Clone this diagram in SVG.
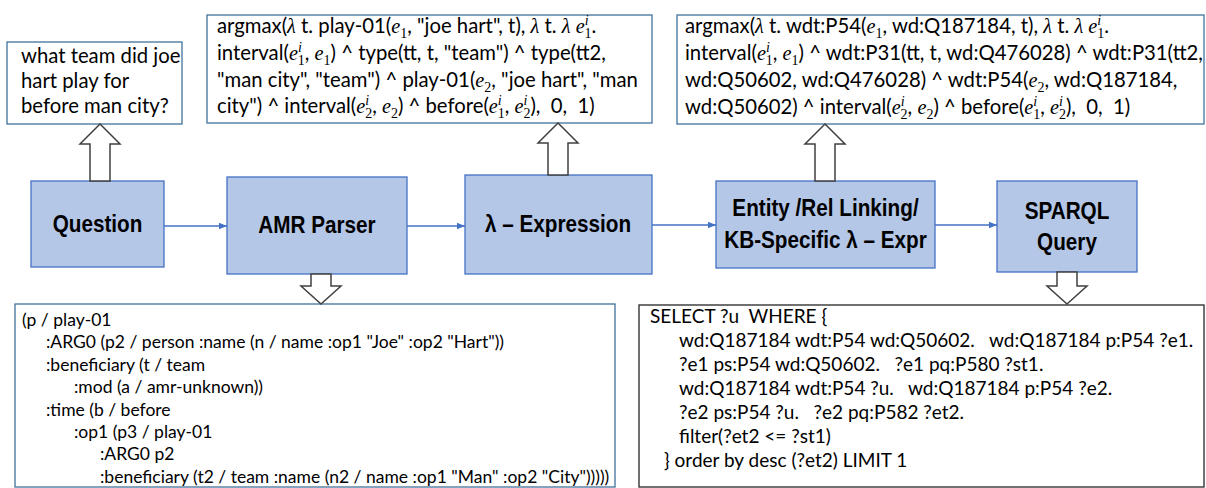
<svg xmlns="http://www.w3.org/2000/svg" width="1206" height="488" viewBox="0 0 1206 488">
<style>
.tb{fill:#fff;stroke:#41719C;stroke-width:1.3}
.tb2{fill:#fff;stroke:#262626;stroke-width:1.3}
.nd{fill:#B4C7E7;stroke:#4472C4;stroke-width:1.3}
.lbl{font-family:"Liberation Sans",Arial,sans-serif;font-weight:bold;font-size:23px;fill:#000;text-anchor:middle}
.t{font-family:Lato,"Liberation Sans",sans-serif;font-size:20.3px;fill:#000;white-space:pre}
.ta{font-family:Lato,"Liberation Sans",sans-serif;font-size:17.5px;fill:#000;white-space:pre}
.ts{font-family:Lato,"Liberation Sans",sans-serif;font-size:19px;fill:#000;white-space:pre}
.m{font-family:"Liberation Serif",serif;font-style:italic}
.s{font-family:"Liberation Serif",serif;font-size:14px}
.si{font-family:"Liberation Serif",serif;font-style:italic;font-size:14px}
.blk{fill:#fff;stroke:#404040;stroke-width:1.5}
.conn{stroke:#4472C4;stroke-width:1.3;fill:none;marker-end:url(#ah)}
</style>
<defs>
<marker id="ah" viewBox="0 0 10 10" refX="10" refY="5" markerWidth="8" markerHeight="8" markerUnits="userSpaceOnUse" orient="auto"><path d="M0,1 L10,5 L0,9 Z" fill="#4472C4"/></marker>
</defs>

<g id="question-text">
<rect class="tb" x="7" y="42" width="175" height="82"/>
<text class="t" x="21" y="63">what team did joe</text>
<text class="t" x="21" y="88">hart play for</text>
<text class="t" x="21" y="113">before man city?</text>
</g>

<g id="lambda-text">
<rect class="tb" x="207" y="15" width="445" height="108"/>
<text class="t" x="217" y="33">argmax(<tspan class="m">λ</tspan> t. play-01(<tspan class="m">e</tspan><tspan class="s" dy="5">1</tspan><tspan dy="-5">, "joe hart", t), </tspan><tspan class="m">λ</tspan> t. <tspan class="m">λ e</tspan><tspan class="si" dy="-8">i</tspan><tspan class="s" dx="-4" dy="13">1</tspan><tspan dy="-5">.</tspan></text>
<text class="t" x="217" y="60">interval(<tspan class="m">e</tspan><tspan class="si" dy="-8">i</tspan><tspan class="s" dx="-4" dy="13">1</tspan><tspan dy="-5">, </tspan><tspan class="m">e</tspan><tspan class="s" dy="5">1</tspan><tspan dy="-5">) ^ type(tt, t, "team") ^ type(tt2,</tspan></text>
<text class="t" x="217" y="87">"man city", "team") ^ play-01(<tspan class="m">e</tspan><tspan class="s" dy="5">2</tspan><tspan dy="-5">, "joe hart", "man</tspan></text>
<text class="t" x="217" y="113">city") ^ interval(<tspan class="m">e</tspan><tspan class="si" dy="-8">i</tspan><tspan class="s" dx="-4" dy="13">2</tspan><tspan dy="-5">, </tspan><tspan class="m">e</tspan><tspan class="s" dy="5">2</tspan><tspan dy="-5">) ^ before(</tspan><tspan class="m">e</tspan><tspan class="si" dy="-8">i</tspan><tspan class="s" dx="-4" dy="13">1</tspan><tspan dy="-5">, </tspan><tspan class="m">e</tspan><tspan class="si" dy="-8">i</tspan><tspan class="s" dx="-4" dy="13">2</tspan><tspan dy="-5">),  0,  1)</tspan></text>
</g>

<g id="kb-text">
<rect class="tb" x="677" y="15" width="527" height="109"/>
<text class="t" x="685" y="33">argmax(<tspan class="m">λ</tspan> t. wdt:P54(<tspan class="m">e</tspan><tspan class="s" dy="5">1</tspan><tspan dy="-5">, wd:Q187184, t), </tspan><tspan class="m">λ</tspan> t. <tspan class="m">λ e</tspan><tspan class="si" dy="-8">i</tspan><tspan class="s" dx="-4" dy="13">1</tspan><tspan dy="-5">.</tspan></text>
<text class="t" x="685" y="60">interval(<tspan class="m">e</tspan><tspan class="si" dy="-8">i</tspan><tspan class="s" dx="-4" dy="13">1</tspan><tspan dy="-5">, </tspan><tspan class="m">e</tspan><tspan class="s" dy="5">1</tspan><tspan dy="-5">) ^ wdt:P31(tt, t, wd:Q476028) ^ wdt:P31(tt2,</tspan></text>
<text class="t" x="685" y="87">wd:Q50602, wd:Q476028) ^ wdt:P54(<tspan class="m">e</tspan><tspan class="s" dy="5">2</tspan><tspan dy="-5">, wd:Q187184,</tspan></text>
<text class="t" x="685" y="114">wd:Q50602) ^ interval(<tspan class="m">e</tspan><tspan class="si" dy="-8">i</tspan><tspan class="s" dx="-4" dy="13">2</tspan><tspan dy="-5">, </tspan><tspan class="m">e</tspan><tspan class="s" dy="5">2</tspan><tspan dy="-5">) ^ before(</tspan><tspan class="m">e</tspan><tspan class="si" dy="-8">i</tspan><tspan class="s" dx="-4" dy="13">1</tspan><tspan dy="-5">, </tspan><tspan class="m">e</tspan><tspan class="si" dy="-8">i</tspan><tspan class="s" dx="-4" dy="13">2</tspan><tspan dy="-5">),  0,  1)</tspan></text>
</g>

<g id="question">
<rect class="nd" x="31" y="181" width="133" height="86"/>
<text class="lbl" transform="translate(97.5,232) scale(0.9,1)">Question</text>
</g>
<g id="amr-parser">
<rect class="nd" x="227" y="177" width="180" height="97"/>
<text class="lbl" transform="translate(317,233) scale(0.9,1)">AMR Parser</text>
</g>
<g id="lambda-expression">
<rect class="nd" x="465" y="175" width="187" height="99"/>
<text class="lbl" transform="translate(558,232) scale(0.9,1)">λ – Expression</text>
</g>
<g id="entity-linking">
<rect class="nd" x="716" y="181" width="219" height="87"/>
<text class="lbl" transform="translate(825.5,216) scale(0.9,1)">Entity /Rel Linking/</text>
<text class="lbl" transform="translate(825.5,248) scale(0.9,1)">KB-Specific λ – Expr</text>
</g>
<g id="sparql-query">
<rect class="nd" x="997" y="181" width="140" height="91"/>
<text class="lbl" transform="translate(1067,219) scale(0.9,1)">SPARQL</text>
<text class="lbl" transform="translate(1067,250) scale(0.9,1)">Query</text>
</g>

<g id="amr-text">
<rect class="tb" x="15" y="304" width="600" height="183"/>
<text class="ta" x="22" y="326">(p / play-01</text>
<text class="ta" x="46" y="348.4">:ARG0 (p2 / person :name (n / name :op1 "Joe" :op2 "Hart"))</text>
<text class="ta" x="46" y="370.8">:beneficiary (t / team</text>
<text class="ta" x="74" y="393.2">:mod (a / amr-unknown))</text>
<text class="ta" x="46" y="415.6">:time (b / before</text>
<text class="ta" x="74" y="438">:op1 (p3 / play-01</text>
<text class="ta" x="100" y="460.4">:ARG0 p2</text>
<text class="ta" x="100" y="482.8">:beneficiary (t2 / team :name (n2 / name :op1 "Man" :op2 "City")))))</text>
</g>

<g id="sparql-text">
<rect class="tb2" x="639" y="305" width="565" height="182"/>
<text class="ts" x="650" y="323">SELECT ?u  WHERE {</text>
<text class="ts" x="679" y="347">wd:Q187184 wdt:P54 wd:Q50602.   wd:Q187184 p:P54 ?e1.</text>
<text class="ts" x="679" y="371">?e1 ps:P54 wd:Q50602.   ?e1 pq:P580 ?st1.</text>
<text class="ts" x="679" y="395">wd:Q187184 wdt:P54 ?u.   wd:Q187184 p:P54 ?e2.</text>
<text class="ts" x="679" y="419">?e2 ps:P54 ?u.   ?e2 pq:P582 ?et2.</text>
<text class="ts" x="679" y="443">filter(?et2 &lt;= ?st1)</text>
<text class="ts" x="664" y="467">} order by desc (?et2) LIMIT 1</text>
</g>

<g id="connectors">
<line class="conn" x1="164" y1="226" x2="227" y2="226"/>
<line class="conn" x1="407" y1="226" x2="465" y2="226"/>
<line class="conn" x1="652" y1="225" x2="716" y2="225"/>
<line class="conn" x1="935" y1="225" x2="997" y2="225"/>
<path class="blk" d="M100,124 L120,144 L110,144 L110,181 L90,181 L90,144 L80,144 Z"/>
<path class="blk" d="M558,123 L578,143 L568,143 L568,175 L548,175 L548,143 L538,143 Z"/>
<path class="blk" d="M825,124 L845,144 L835,144 L835,181 L815,181 L815,144 L805,144 Z"/>
<path class="blk" d="M321,304 L341,286 L331,286 L331,274 L311,274 L311,286 L301,286 Z"/>
<path class="blk" d="M1067,304 L1087,286 L1077,286 L1077,272 L1057,272 L1057,286 L1047,286 Z"/>
</g>
</svg>
